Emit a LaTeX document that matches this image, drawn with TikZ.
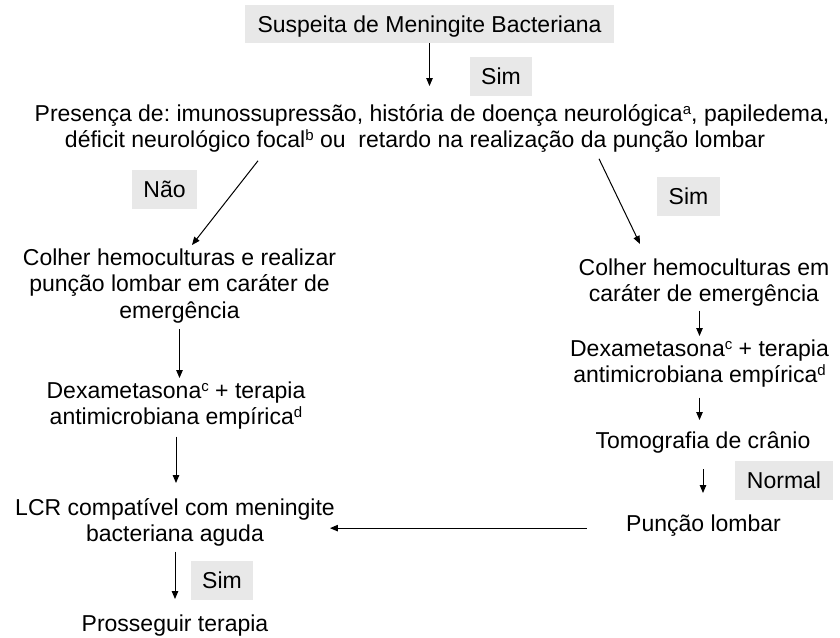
\documentclass[tikz,border=0pt]{standalone}
\usepackage{fontspec}
\setmainfont{Liberation Sans}
\usetikzlibrary{arrows.meta}
\definecolor{boxgray}{RGB}{232,232,232}
\newcommand\toprl{\rule{0pt}{20pt}}
\newcommand\sups[1]{\raisebox{7pt}{\fontsize{15}{15}\selectfont #1}}
\frenchspacing
\begin{document}
\begin{tikzpicture}[x=1pt,y=-1pt,
  txt/.style={font=\fontsize{23}{26.5}\selectfont\frenchspacing, align=center, inner sep=0pt, anchor=north},
  lbl/.style={fill=boxgray, font=\fontsize{23}{26.5}\selectfont, inner xsep=11.5pt, inner ysep=0pt, minimum height=39pt, text height=16.5pt, text depth=0pt},
  arr/.style={-{Triangle[length=8pt,width=6.5pt]}, line width=1pt}]
\useasboundingbox[fill=white] (0,0) rectangle (840,637);

% labels
\node[lbl, minimum height=38pt, inner xsep=12.5pt] (susp) at (429.5,24) {Suspeita de Meningite Bacteriana};
\node[lbl] (sim1) at (501,76) {Sim};
\node[lbl] (nao) at (164.5,189) {Não};
\node[lbl] (sim2) at (688.5,196.5) {Sim};
\node[lbl] (normal) at (784,480.5) {Normal};
\node[lbl] (sim3) at (222,580.5) {Sim};

% text nodes
\node[txt] (pres) at (432,101) {\toprl Presença de: imunossupressão, história de doença neurológica\sups{a}, papiledema,\\
  déficit neurológico focal\sups{b} ou\ \ retardo na realização da punção lombar\hspace*{34pt}};
\node[txt] (colL) at (179.5,245) {\toprl Colher hemoculturas e realizar\\punção lombar em caráter de\\emergência};
\node[txt] (dexL) at (176,378) {\toprl Dexametasona\sups{c} + terapia\\antimicrobiana empírica\sups{d}};
\node[txt] (lcr) at (175,495) {\toprl LCR compatível com meningite\\bacteriana aguda};
\node[txt] (pros) at (175,611) {\toprl Prosseguir terapia};
\node[txt] (colR) at (704,255) {\toprl Colher hemoculturas em\\caráter de emergência};
\node[txt] (dexR) at (699.5,336) {\toprl Dexametasona\sups{c} + terapia\\antimicrobiana empírica\sups{d}};
\node[txt] (tomo) at (703,428) {\toprl Tomografia de crânio};
\node[txt] (punc) at (703.5,511) {\toprl Punção lombar};

% connectors
\draw[arr, shorten >=15pt] (susp.south) -- (susp.south |- pres.north);
\draw[arr] ([xshift=-174pt,yshift=-8pt]pres.south) -- ([xshift=12.5pt]colL.north);
\draw[arr] ([xshift=167pt,yshift=-6pt]pres.south) -- ([xshift=-64pt,yshift=11pt]colR.north);
\draw[arr, shorten <=6pt] (colL.south) -- (colL.south |- dexL.north);
\draw[arr, shorten <=7pt, shorten >=12pt] (dexL.south) -- (dexL.south |- lcr.north);
\draw[arr, shorten <=5pt, shorten >=12pt] (lcr.south) -- (lcr.south |- pros.north);
\draw[arr, shorten <=4pt] (dexR.north |- colR.south) -- (dexR.north);
\draw[arr, shorten <=10pt, shorten >=8pt] (dexR.south) -- (dexR.south |- tomo.north);
\draw[arr, shorten <=16pt, shorten >=18pt] (tomo.south) -- (tomo.south |- punc.north);
\coordinate (h1) at ([xshift=-39pt,yshift=-4.5pt]punc.west);
\draw[arr, shorten >=-5pt] (h1) -- (h1 -| lcr.east);
\end{tikzpicture}
\end{document}
